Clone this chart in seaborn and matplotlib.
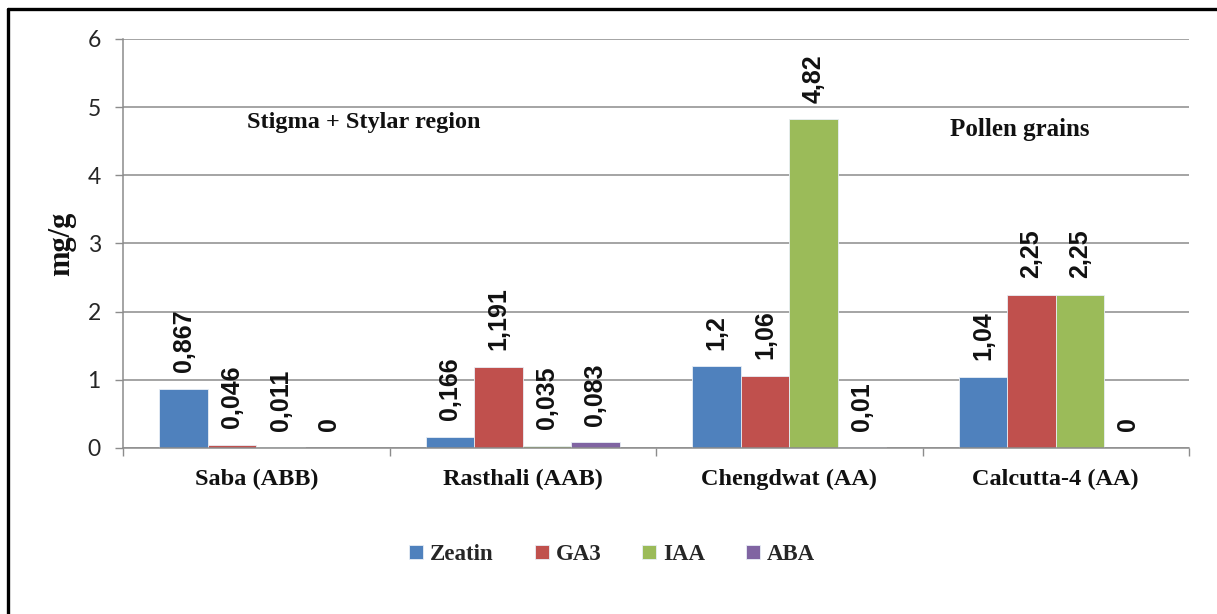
import matplotlib
matplotlib.use("Agg")
import matplotlib.pyplot as plt
from matplotlib.lines import Line2D
from matplotlib.patches import Patch
import seaborn as sns
import pandas as pd

# Hormone content (mg/g) per banana cultivar
cultivars = ["Saba (ABB)", "Rasthali (AAB)", "Chengdwat (AA)", "Calcutta-4 (AA)"]
hormones = ["Zeatin", "GA3", "IAA", "ABA"]
zeatin = [0.867, 0.166, 1.2, 1.04]
ga3 = [0.046, 1.191, 1.06, 2.25]
iaa = [0.011, 0.035, 4.82, 2.25]
aba = [0.0, 0.083, 0.01, 0.0]
colors = ["#4F81BD", "#C0504D", "#9BBB59", "#8064A2"]
yticks = [0, 1, 2, 3, 4, 5, 6]

series = {"Zeatin": zeatin, "GA3": ga3, "IAA": iaa, "ABA": aba}
df = pd.DataFrame(
    [(c, h, series[h][i]) for h in hormones for i, c in enumerate(cultivars)],
    columns=["cultivar", "hormone", "value"],
)

sns.set_theme(style="white")
plt.rcParams["font.family"] = ["DejaVu Sans"]

fig = plt.figure(figsize=(12.17, 6.14), dpi=100)
ax = fig.add_axes([0.1011, 0.2704, 0.8759, 0.6661])

sns.barplot(
    data=df, x="cultivar", y="value", hue="hormone",
    order=cultivars, hue_order=hormones,
    palette=dict(zip(hormones, colors)), saturation=1,
    width=4 / 5.5, gap=0, errorbar=None, legend=False, ax=ax,
    edgecolor="#E8EEF6", linewidth=0.6,
)

grid_c = "#8C8C8C"
ax.set_ylim(0, 6)
ax.set_xlim(-0.5, len(cultivars) - 0.5)
ax.set_yticks(yticks)
ax.set_yticklabels([str(t) for t in yticks], fontfamily="Lato", fontsize=16.5, color="#262626")
ax.yaxis.grid(True, color=grid_c, linewidth=1.1)
ax.set_axisbelow(True)
ax.tick_params(axis="y", which="major", direction="out", length=6, width=1.0,
               color=grid_c, pad=10, left=True)

# category labels at centres, separator ticks at group boundaries
ax.set_xticks(range(len(cultivars)))
ax.set_xticklabels(cultivars, fontfamily="Liberation Serif", fontweight="bold",
                   fontsize=17.5, color="#111111")
ax.tick_params(axis="x", which="major", length=0, pad=15)
ax.set_xticks([i - 0.5 for i in range(len(cultivars) + 1)], minor=True)
ax.tick_params(axis="x", which="minor", direction="out", length=6, width=1.0,
               color=grid_c, bottom=True)

for side in ("top", "right"):
    ax.spines[side].set_visible(False)
for side in ("left", "bottom"):
    ax.spines[side].set_color(grid_c)
    ax.spines[side].set_linewidth(1.1)

ax.set_xlabel("")
ax.set_ylabel("mg/g", fontfamily="Liberation Serif", fontweight="bold",
              fontsize=22, color="#111111", labelpad=8)

# value labels above each bar
for cont in ax.containers:
    for bar in cont:
        v = bar.get_height()
        ax.annotate(f"{v:g}".replace(".", ","),
                    (bar.get_x() + bar.get_width() / 2, v),
                    xytext=(0, 12), textcoords="offset points",
                    rotation=90, ha="center", va="bottom",
                    fontfamily="Liberation Sans", fontweight="bold",
                    fontsize=18, color="#111111")

ax.text(0.226, 0.797, "Stigma + Stylar region", transform=ax.transAxes,
        ha="center", va="center", fontfamily="Liberation Serif",
        fontweight="bold", fontsize=17.5, color="#111111")
ax.text(0.8415, 0.7775, "Pollen grains", transform=ax.transAxes,
        ha="center", va="center", fontfamily="Liberation Serif",
        fontweight="bold", fontsize=18, color="#111111")

handles = [Patch(facecolor=c, edgecolor="#E8EEF6", linewidth=0.6) for c in colors]
fig.legend(handles, hormones, loc="center", bbox_to_anchor=(0.503, 0.097),
           ncol=4, frameon=False, handlelength=0.6, handleheight=0.6,
           handletextpad=0.3, columnspacing=1.8,
           prop={"family": "Liberation Serif", "weight": "bold", "size": 16.5})

# outer frame (top and left edges)
fig.add_artist(Line2D([0.0065, 1.0], [0.9855, 0.9855], transform=fig.transFigure,
                      color="black", linewidth=2.4))
fig.add_artist(Line2D([0.0065, 0.0065], [0.0, 0.9855], transform=fig.transFigure,
                      color="black", linewidth=2.4))

fig.savefig("out.png", dpi=100)
